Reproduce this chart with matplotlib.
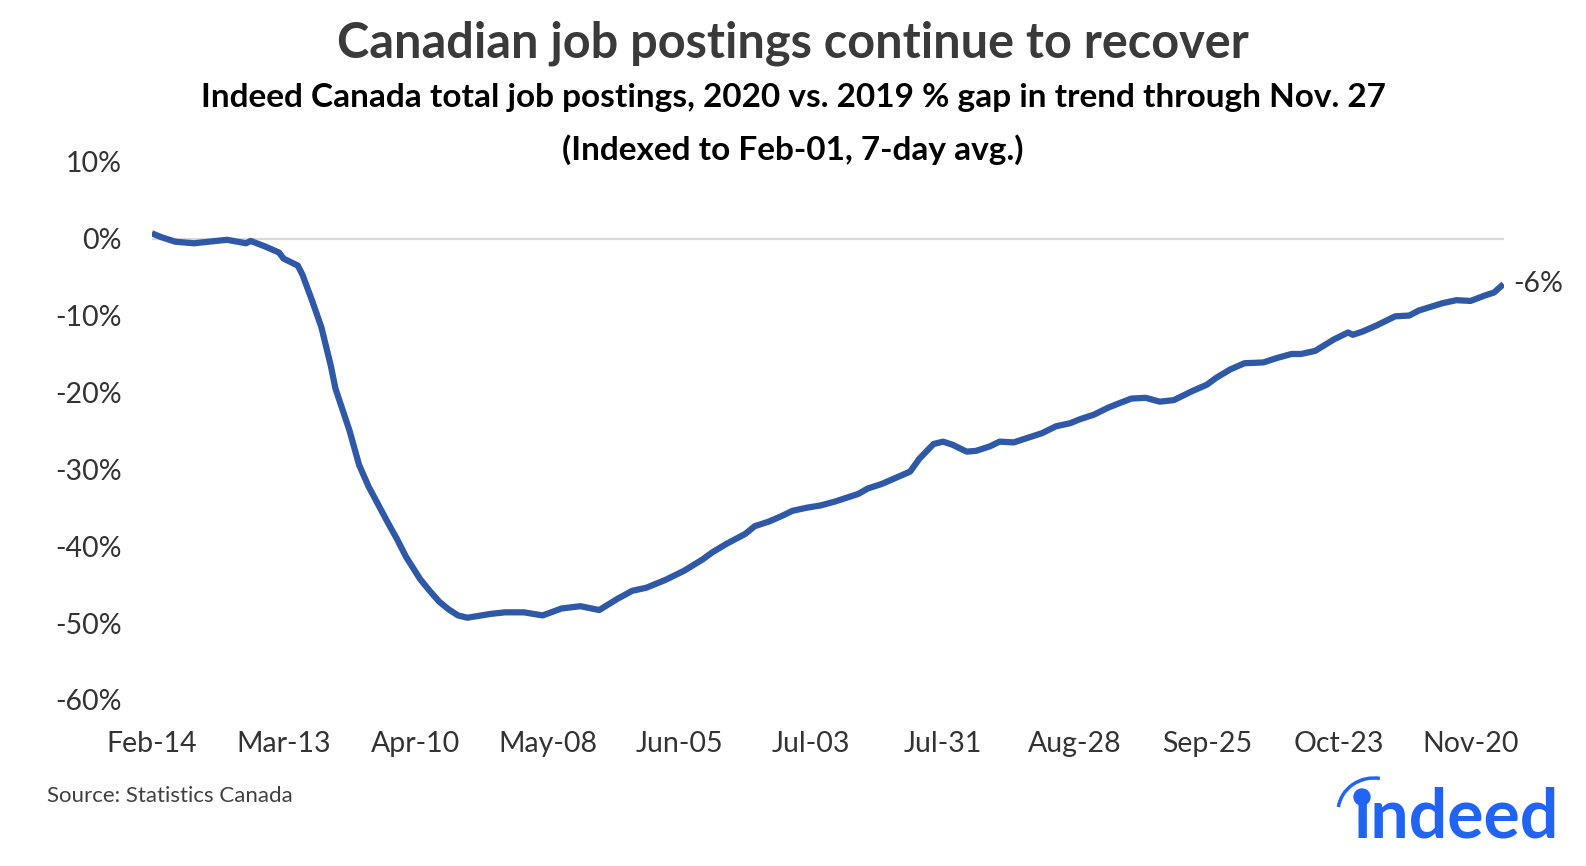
import pandas as pd
import numpy as np
import matplotlib
matplotlib.use("Agg")
import matplotlib.pyplot as plt
import matplotlib.dates as mdates
import matplotlib.patches as patches

# ------------------ Data ------------------ #
start_date = "2020-02-14"
day_offsets = [0, 2, 5, 9, 12, 16, 20, 21, 24, 27, 28, 31, 32, 34, 36, 38, 39, 42, 44, 46,
               48, 50, 52, 54, 57, 59, 61, 63, 65, 67, 70, 72, 75, 79, 83, 87, 91, 95, 99, 102,
               105, 109, 113, 117, 119, 122, 126, 128, 131, 134, 136, 139, 142, 145, 147, 150,
               152, 155, 158, 161, 163, 166, 168, 170, 173, 175, 178, 180, 183, 186, 189, 192,
               195, 197, 200, 203, 205, 208, 211, 214, 217, 221, 224, 226, 229, 232, 236, 239,
               242, 244, 247, 251, 254, 255, 257, 260, 264, 267, 269, 274, 277, 280, 283, 285, 287]
gap_pct = [0.7, 0.2, -0.4, -0.6, -0.4, -0.15, -0.6, -0.3, -1.0, -1.8, -2.6, -3.5, -4.7, -8.0,
           -11.5, -16.5, -19.5, -25.0, -29.4, -32.2, -34.5, -36.8, -39.0, -41.4, -44.3, -45.8,
           -47.2, -48.2, -49.0, -49.3, -49.0, -48.8, -48.6, -48.6, -49.0, -48.1, -47.8, -48.3,
           -46.8, -45.8, -45.4, -44.4, -43.2, -41.7, -40.8, -39.7, -38.4, -37.4, -36.8, -36.0,
           -35.4, -35.0, -34.7, -34.2, -33.8, -33.2, -32.5, -31.9, -31.1, -30.3, -28.6, -26.7,
           -26.4, -26.8, -27.7, -27.6, -27.0, -26.4, -26.5, -25.9, -25.3, -24.4, -24.0, -23.5,
           -22.9, -22.0, -21.5, -20.8, -20.7, -21.2, -21.0, -19.8, -19.0, -18.1, -17.0, -16.2,
           -16.1, -15.5, -15.0, -15.0, -14.6, -13.1, -12.2, -12.5, -12.1, -11.3, -10.1, -10.0,
           -9.35, -8.4, -8.0, -8.1, -7.4, -7.0, -5.9]
end_label = "-6%"
y_ticks = [10, 0, -10, -20, -30, -40, -50, -60]

dates = pd.Timestamp(start_date) + pd.to_timedelta(day_offsets, unit="D")
tick_dates = pd.date_range(start_date, "2020-11-20", freq="28D")

# ------------------ Styling ------------------ #
FONT = "Lato"
LINE_BLUE = "#2f59a6"
TEXT_DARK = "#333333"

fig = plt.figure(figsize=(15.86, 8.66), dpi=100)
ax = fig.add_axes([0.0957, 0.1917, 0.8523, 0.6215])

ax.plot(dates, gap_pct, color=LINE_BLUE, linewidth=4.5, solid_capstyle="butt", zorder=3)
ax.axhline(0, color="#d9d9d9", linewidth=1.6, zorder=1)

ax.set_xlim(dates[0], dates[-1])
ax.set_ylim(-60, 10)
ax.set_yticks(y_ticks)
ax.set_yticklabels([f"{v}%" for v in y_ticks], fontsize=20.5, family=FONT, color=TEXT_DARK)
ax.set_xticks(tick_dates)
ax.xaxis.set_major_formatter(mdates.DateFormatter("%b-%d"))
for lbl in ax.get_xticklabels():
    lbl.set_fontsize(20.5)
    lbl.set_family(FONT)
    lbl.set_color(TEXT_DARK)
ax.tick_params(axis="both", length=0)
ax.tick_params(axis="y", pad=21.5)
ax.tick_params(axis="x", pad=22)
for s in ax.spines.values():
    s.set_visible(False)

# end-of-line label
ax.annotate(end_label, xy=(dates[-1], gap_pct[-1]), xytext=(7, 0), textcoords="offset points",
            ha="left", va="center", fontsize=20.5, family=FONT, color=TEXT_DARK)

# ------------------ Titles ------------------ #
fig.text(0.5, 1 - 43 / 866, "Canadian job postings continue to recover", ha="center", va="center",
         fontsize=35, fontweight="bold", family=FONT, color="#3a3a3a")
fig.text(0.5, 1 - 97 / 866, "Indeed Canada total job postings, 2020 vs. 2019 % gap in trend through Nov. 27",
         ha="center", va="center", fontsize=24, fontweight="bold", family=FONT, color="black")
fig.text(0.5, 1 - 150 / 866, "(Indexed to Feb-01, 7-day avg.)", ha="center", va="center",
         fontsize=24, fontweight="bold", family=FONT, color="black")

fig.text(47 / 1586, 1 - 796 / 866, "Source: Statistics Canada", ha="left", va="center",
         fontsize=16, family=FONT, color="#404040")

# ------------------ Indeed logo (approximation) ------------------ #
INDEED_BLUE = "#2164f3"
logo_ax = fig.add_axes([0, 0, 1, 1], facecolor="none")
logo_ax.set_xlim(0, 1586)
logo_ax.set_ylim(866, 0)
logo_ax.axis("off")
logo_ax.text(1559, 837, "\u0131ndeed", ha="right", va="baseline",
             fontsize=49, fontweight="bold", family=FONT, color=INDEED_BLUE)
logo_ax.add_patch(patches.Circle((1362, 797), 8, color=INDEED_BLUE))
logo_ax.add_patch(patches.Arc((1374, 812), 72, 68, theta1=188, theta2=280,
                              color=INDEED_BLUE, linewidth=2.5))

fig.savefig("out.png", dpi=100)
